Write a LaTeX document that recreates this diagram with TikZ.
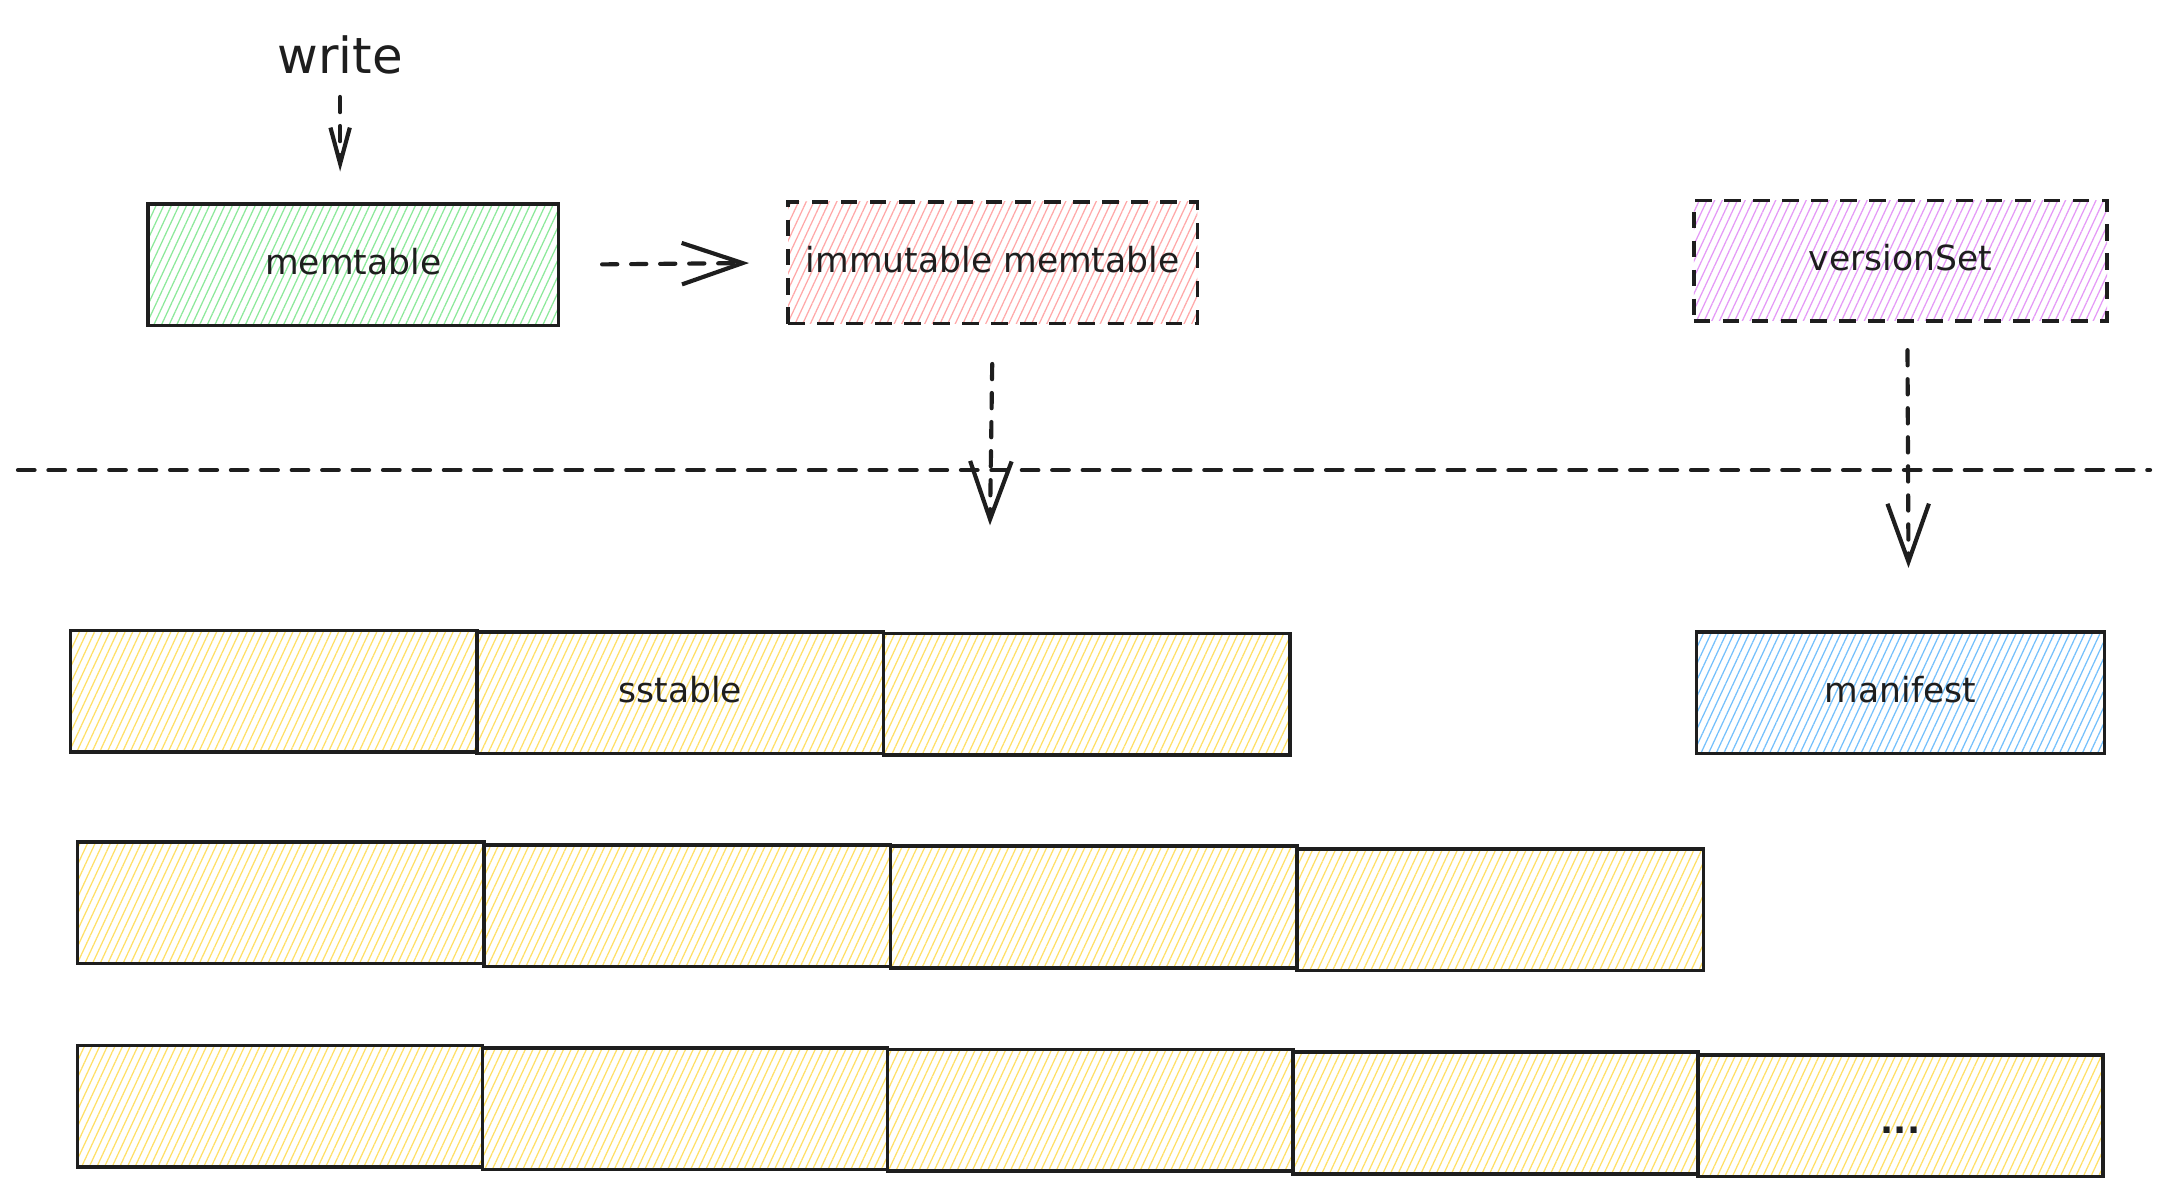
\documentclass[tikz,border=0pt]{standalone}
\usepackage{fontspec}
\setmainfont{DejaVu Sans}
\usetikzlibrary{arrows.meta,patterns.meta}
\definecolor{greenF}{HTML}{8CE99A}
\definecolor{pinkF}{HTML}{FFA8A8}
\definecolor{purpleF}{HTML}{E599F7}
\definecolor{blueF}{HTML}{74C0FC}
\definecolor{yellowF}{HTML}{FFE066}
\definecolor{ink}{HTML}{1E1E1E}
\begin{document}
\begin{tikzpicture}[x=1pt,y=-1pt,
  box/.style={draw=ink, line width=2.5pt, minimum width=#1, minimum height=88pt, inner sep=0pt,
    font=\fontsize{25}{30}\selectfont, text=ink, text height=18pt, text depth=4pt},
  box/.default=294pt,
  hatch/.style={pattern={Lines[angle=65,distance=5pt,line width=0.9pt]}, pattern color=#1},
  dl/.style={dash pattern=on 12pt off 9pt},
  conn/.style={draw=ink, line width=3pt, dash pattern=on 11pt off 10pt, line cap=round},
  bigtip/.style={-{Straight Barb[length=42pt,width=30pt,line width=3pt]}},
]
\fill[white] (0,0) rectangle (1568,864);
\useasboundingbox (0,0) rectangle (1568,864);

% top nodes
\node[font=\fontsize{36}{40}\selectfont, text=ink, inner sep=0pt] (write) at (246,40) {write};
\node[box=297pt, hatch=greenF] (mem) at (255.5,191.5) {memtable};
\node[box=296pt, hatch=pinkF, dl] (imm) at (718,190) {immutable memtable};
\node[box=299pt, hatch=purpleF, dl, minimum height=87pt] (vs) at (1374.5,188.5) {versionSet};
\node[box=295pt, hatch=blueF] (man) at (1374.5,501) {manifest};

% row 1
\node[box, hatch=yellowF] (a1) at (198,500) {};
\node[box, hatch=yellowF] (a2) at (492,501) {sstable};
\node[box, hatch=yellowF] (a3) at (786,502) {};
% row 2
\node[box, hatch=yellowF] (b1) at (203,653) {};
\node[box, hatch=yellowF] (b2) at (497,655) {};
\node[box, hatch=yellowF] (b3) at (791,656) {};
\node[box, hatch=yellowF] (b4) at (1085,658) {};
% row 3
\node[box=293pt, hatch=yellowF] (c1) at (202.5,800) {};
\node[box=293pt, hatch=yellowF] (c2) at (495.5,802) {};
\node[box=293pt, hatch=yellowF] (c3) at (788.5,803) {};
\node[box=293pt, hatch=yellowF] (c4) at (1081.5,805) {};
\node[box=293pt, hatch=yellowF, font=\fontsize{25}{30}\selectfont\bfseries, text height=26pt, text depth=0pt] (c5) at (1374.5,807) {...};

% divider
\coordinate (hl) at (13,340);
\coordinate (hr) at (1555,340);
\draw[conn, dash pattern=on 12pt off 10pt] (hl) -- (hr);

% connectors
\draw[conn, -{Straight Barb[length=26pt,width=14pt,line width=3pt]}, shorten <=16pt, shorten >=23pt]
  (write.south) -- (write.south |- mem.north);
\draw[conn, -{Straight Barb[length=44pt,width=30pt,line width=3pt]}, shorten <=31pt, shorten >=27pt]
  (mem.east) -- (imm.west);
\coordinate (immT) at (716,380);
\draw[conn, bigtip, shorten <=28pt] (imm.south) -- (immT);
\draw[conn, bigtip, shorten <=20pt, shorten >=45pt]
  ([xshift=5pt]vs.south) -- ([xshift=6pt]man.north);
\end{tikzpicture}
\end{document}
